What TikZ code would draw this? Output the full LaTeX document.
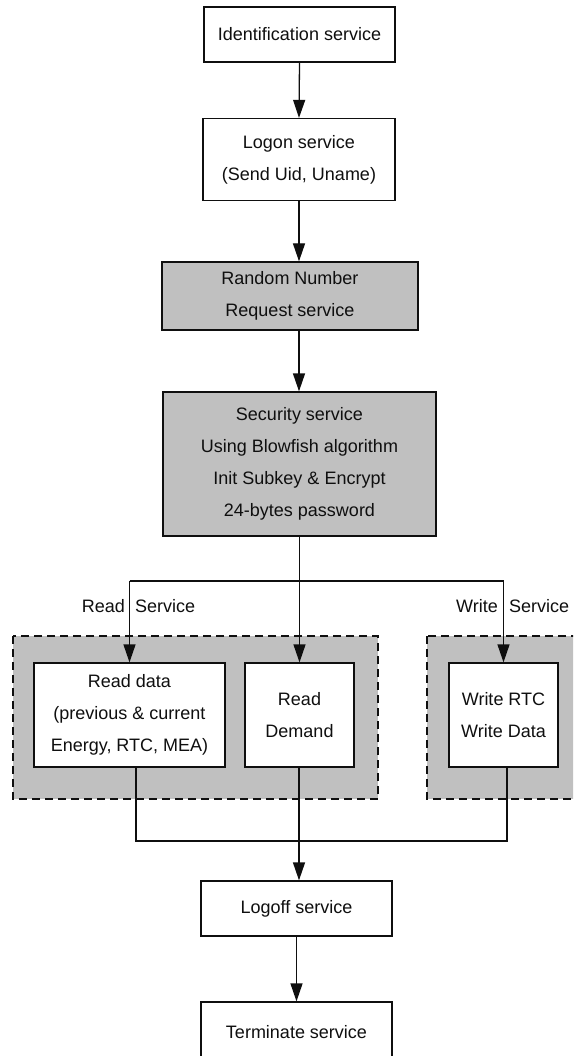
\documentclass[tikz,border=0pt]{standalone}
\usepackage{fontspec}
\setmainfont{Liberation Sans}
\usetikzlibrary{arrows.meta}
\definecolor{boxgray}{RGB}{192,192,192}
\definecolor{inkline}{RGB}{15,15,15}
\tikzset{
  every node/.style={font=\fontsize{18}{32}\selectfont, text=inkline},
  svc/.style={draw=inkline, line width=1.3pt, fill=white, align=center, inner sep=0pt},
  graysvc/.style={svc, fill=boxgray},
  region/.style={draw=inkline, line width=1.1pt, fill=boxgray, dash pattern=on 8pt off 5pt},
  flow/.style={draw=inkline, line width=1.3pt, -{Triangle[length=18pt,width=12pt]}},
  link/.style={draw=inkline, line width=1.3pt},
  lbl/.style={inner sep=0pt}
}
\begin{document}
\begin{tikzpicture}[x=1pt, y=-1pt]
\useasboundingbox (0,0) rectangle (573,1056);
\clip (0,0) rectangle (573,1056);
\fill[white] (0,0) rectangle (573,1056);

% service groups
\path[region] (13,636) rectangle (378,799);
\path[region] (427,636) rectangle (600,799);

% main chain
\node[svc, minimum width=191pt, minimum height=55pt] (ident) at (299.5,34.5) {Identification service};
\node[svc, minimum width=192pt, minimum height=82pt] (logon) at (299,159.5) {Logon service\\(Send Uid, Uname)};
\node[graysvc, minimum width=256pt, minimum height=68pt] (random) at (290,296) {Random Number\\Request service};
\node[graysvc, minimum width=273pt, minimum height=144pt] (secur) at (299.5,464) {Security service\\Using Blowfish algorithm\\Init Subkey \& Encrypt\\24-bytes password};

% read / write services
\node[svc, minimum width=191pt, minimum height=104pt] (rdata) at (129.5,715) {Read data\\(previous \& current\\Energy, RTC, MEA)};
\node[svc, minimum width=109pt, minimum height=104pt] (rdem) at (299.5,715) {Read\\Demand};
\node[svc, minimum width=109pt, minimum height=104pt] (wr) at (503.5,715) {Write RTC\\Write Data};

\node[svc, minimum width=191pt, minimum height=55pt] (logoff) at (296.5,908.5) {Logoff service};
\node[svc, minimum width=191pt, minimum height=60pt] (term) at (296.5,1032) {Terminate service};

% branch points
\coordinate (split) at (299.5,581);
\coordinate (splitL) at (129.5,581);
\coordinate (splitR) at (503.5,581);
\coordinate (joinL) at (136,841);
\coordinate (joinR) at (507,841);
\coordinate (joinM) at (299,841);

% arrows along the chain
\draw[flow] (ident.south) -- (logon.north);
\draw[flow] (logon.south) -- (logon.south |- random.north);
\draw[flow] (logon.south |- random.south) -- (logon.south |- secur.north);

% fan-out to the services
\draw[link] (secur.south) -- (split);
\draw[link] (splitL) -- (splitR);
\draw[flow] (split) -- (rdem.north);
\draw[flow] (splitL) -- (rdata.north);
\draw[flow] (splitR) -- (wr.north);

% fan-in to logoff
\draw[link] (rdata.south -| joinL) -- (joinL) -- (joinR) -- (wr.south -| joinR);
\draw[flow] (rdem.south -| joinM) -- (joinM) -- (joinM |- logoff.north);
\draw[flow] (logoff.south) -- (term.north);

% branch labels
\node[lbl, anchor=east] (rdl) at (125,606) {Read};
\node[lbl, anchor=west] (rdr) at (135,606) {Service};
\node[lbl, anchor=east] (wrl) at (498,606) {Write};
\node[lbl, anchor=west] (wrr) at (509,606) {Service};
\end{tikzpicture}
\end{document}
